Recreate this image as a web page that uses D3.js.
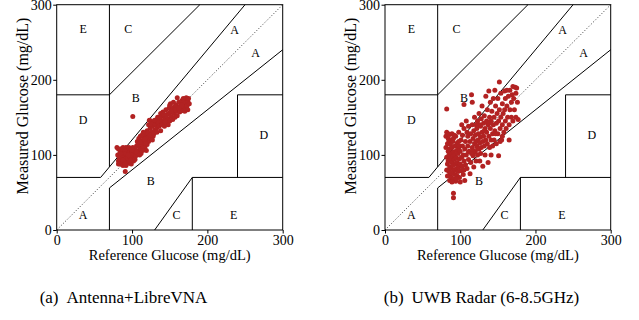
<!DOCTYPE html>
<html><head><meta charset="utf-8">
<script src="https://cdn.jsdelivr.net/npm/d3@7"></script>
<style>
body{margin:0;background:#fff;}
svg{display:block;}
text{font-family:"Liberation Serif","Times New Roman",serif;fill:#000;}
</style></head>
<body><svg id="c" width="639" height="320"></svg>
<script>
// ---- data ----
const ticks = [0, 100, 200, 300];
const xLabel = "Reference Glucose (mg/dL)";
const yLabel = "Measured Glucose (mg/dL)";
const captions = [["(a)", "Antenna+LibreVNA"], ["(b)", "UWB Radar (6-8.5GHz)"]];
const zoneLetters = ["E","C","A","A","B","D","D","B","A","C","E"];
const zoneX = [35, 95, 236, 264, 105, 35, 275, 125, 35, 159, 235];
const zoneY = [267, 267, 266, 236, 176, 146, 126, 65, 20, 20, 20];

const leftPts = [
[82,92],[83,97],[84,88],[84,103],[85,95],[85,108],[86,90],[86,100],[87,94],[87,105],[88,86],[88,98],[88,110],[89,92],[89,102],[90,96],[90,88],[90,107],[91,99],[91,93],[92,104],[92,86],[92,110],[93,97],[93,91],[94,101],[94,107],[95,94],[95,89],[95,104],[96,99],[96,110],[97,92],[97,105],[98,97],[98,101],[99,88],[99,108],[100,95],[100,103],[101,99],[101,110],[102,92],[102,106],[103,101],[103,97],[104,109],[104,94],[105,104],[105,99],[81,100],[83,94],[86,96],[89,96],[91,105],[93,100],[96,92],[99,100],[84,98],[87,100],[90,102],[94,96],[97,98],[100,107],[82,88],[85,102],[88,93],[91,88],[95,100],[98,93],
[91,78],[101,151],[80,110],[82,108],
[106,112],[107,118],[108,105],[109,122],[110,110],[110,116],[111,125],[112,108],[113,119],[114,113],[115,124],[115,130],[116,118],[117,110],[118,126],[119,120],[120,114],[120,132],[121,124],[122,140],[122,118],[123,128],[124,135],[125,122],[125,145],[126,130],[127,138],[128,125],[129,143],[130,133],[108,114],[112,102],[116,128],[119,106],[123,146],[127,120],[113,126],[118,116],[121,129],[124,126],[111,117],[114,106],[117,121],[126,141],[129,128],[106,104],[110,100],
[131,140],[132,145],[133,136],[134,150],[135,142],[136,138],[137,148],[138,155],[139,144],[140,140],[140,152],[141,157],[142,146],[143,138],[144,150],[145,160],[146,143],[147,154],[148,148],[149,162],[150,156],[150,145],[151,168],[152,151],[153,159],[154,147],[155,163],[156,155],[157,150],[158,166],[159,158],[160,152],[161,163],[162,170],[163,157],[164,165],[165,161],[166,172],[167,159],[168,167],[169,174],[170,163],[171,170],[172,176],[173,165],[174,171],[175,175],[176,168],[168,175],[160,176],[155,170],[145,152],[138,132],[134,144],[142,154],[148,140],[152,158],[158,160],[164,158],[170,158],[174,160],[136,150],[144,144],[150,166],[162,162],[166,166],[133,130],[130,146]
];

const rightPts = [
[82,161],[81,125],[81,110],[82,97],[82,80],[82,130],[83,115],[83,88],[83,72],[84,105],[84,122],[84,92],[85,78],[85,100],[85,118],[86,84],[86,127],[86,66],[86,108],[87,95],[87,75],[87,114],[88,102],[88,82],[88,120],[88,70],[89,90],[89,128],[89,110],[90,76],[90,98],[90,86],[90,118],[91,104],[91,68],[91,122],[92,94],[92,80],[91,43],[91,49],[93,112],[93,74],[93,100],[94,88],[94,125],[94,65],[95,106],[95,82],[95,96],[96,116],[96,72],[96,90],[97,102],[97,78],[98,110],[98,84],[98,130],[99,95],[99,70],[100,105],[100,64],[100,88],[101,120],[101,79],[102,97],[102,140],[103,112],[103,85],[104,100],[104,74],[105,92],[105,135],[106,108],[106,66],[107,118],[107,87],[108,145],[108,100],[109,82],[110,112],[110,125],[111,94],[111,138],[112,105],[113,75],[113,118],[114,128],[114,90],[115,180],[116,170],[105,167],[116,110],[116,140],[117,99],[117,122],[118,84],[118,132],[119,115],[119,150],[120,104],[120,126],[121,118],[121,92],[122,135],[122,112],[123,145],[123,100],[124,120],[124,128],[125,155],[125,108],[126,116],[126,92],[127,138],[127,124],[128,148],[128,110],[129,165],[129,130],[130,118],[130,85],[131,142],[131,125],[132,112],[132,152],[133,135],[133,100],[134,178],[134,120],[135,145],[135,130],[136,160],[136,115],[137,140],[137,90],[138,185],[138,125],[139,150],[139,110],[140,135],[140,170],[141,120],[141,145],[142,158],[143,128],[143,112],[144,175],[144,140],[145,150],[145,120],[146,186],[146,132],[147,165],[148,142],[148,115],[149,155],[150,128],[150,175],[152,197],[151,145],[151,99],[152,160],[153,135],[154,182],[154,150],[155,120],[156,168],[156,140],[157,155],[158,130],[159,185],[159,160],[160,145],[160,175],[161,135],[162,165],[163,150],[164,178],[165,140],[166,186],[166,160],[165,120],[168,170],[168,150],[170,191],[170,145],[171,175],[172,160],[173,190],[174,150],[175,189],[176,170],[177,147],[174,182],[169,180],[162,186],
[84,128],[88,76],[92,126],[95,68],[99,112],[89,64],[98,118],[105,80],[111,104],[117,106],[123,108],[126,140],[132,132],[138,142],[141,100],[147,128],[153,118],[156,125],[103,126],[109,130],[115,102],[121,140],[127,102]
];

// Clarke error grid zone boundaries (data units)
const zoneLines = [
[[0,70],[175/3,70]],
[[175/3,70],[250,300]],
[[70,84],[70,300]],
[[0,180],[70,180]],
[[70,180],[190,300]],
[[70,0],[70,56]],
[[70,56],[300,240]],
[[180,0],[180,70]],
[[180,70],[300,70]],
[[240,70],[240,180]],
[[240,180],[300,180]],
[[130,0],[180,70]]
];

const FONT = '"Liberation Serif", "Times New Roman", serif';
const svg = d3.select("#c");
const panels = [
  {x0: 56.7, x1: 282.7, pts: leftPts, cap: captions[0], capX: 123.5, ylabX: 22},
  {x0: 385, x1: 610.7, pts: rightPts, cap: captions[1], capX: 481.5, ylabX: 350}
];
const yTop = 4.7, yBot = 230;

panels.forEach(p => {
  const x = d3.scaleLinear().domain([0,300]).range([p.x0, p.x1]);
  const y = d3.scaleLinear().domain([0,300]).range([yBot, yTop]);
  const g = svg.append("g").attr("font-family", FONT);

  // diagonal
  g.append("line").attr("x1", x(0)).attr("y1", y(0)).attr("x2", x(300)).attr("y2", y(300))
    .attr("stroke","#000").attr("stroke-width",0.8).attr("stroke-dasharray","1,2");

  g.selectAll("line.z").data(zoneLines).enter().append("line").attr("class","z")
    .attr("x1", d=>x(d[0][0])).attr("y1", d=>y(d[0][1]))
    .attr("x2", d=>x(d[1][0])).attr("y2", d=>y(d[1][1]))
    .attr("stroke","#000").attr("stroke-width",1);

  // points
  g.selectAll("circle").data(p.pts).enter().append("circle")
    .attr("cx", d=>x(d[0])).attr("cy", d=>y(d[1])).attr("r", 2.5)
    .attr("fill", "#b22222");

  // zone letters
  zoneLetters.forEach((L,i) => {
    g.append("text").attr("x", x(zoneX[i])).attr("y", y(zoneY[i]))
      .attr("text-anchor","middle").attr("dominant-baseline","central")
      .attr("font-family", FONT).attr("font-size", 12).text(L);
  });

  // axes
  const xa = g.append("g").attr("transform", `translate(0,${yBot})`)
    .call(d3.axisBottom(x).tickValues(ticks).tickSize(3.5).tickPadding(1.5).tickSizeOuter(0));
  const ya = g.append("g").attr("transform", `translate(${p.x0},0)`)
    .call(d3.axisLeft(y).tickValues(ticks).tickSize(3.5).tickPadding(1.5).tickSizeOuter(0));
  [xa, ya].forEach(a => {
    a.attr("font-family", FONT);
    a.select(".domain").remove();
    a.selectAll("line").attr("stroke","#000");
    a.selectAll("text").attr("font-size", 14).attr("font-family", FONT).attr("fill","#000");
  });
  // frame
  g.append("rect").attr("x", p.x0).attr("y", yTop).attr("width", p.x1-p.x0).attr("height", yBot-yTop)
    .attr("fill","none").attr("stroke","#000").attr("stroke-width",1);

  // axis labels
  g.append("text").attr("x", (p.x0+p.x1)/2).attr("y", 260).attr("text-anchor","middle")
    .attr("font-family", FONT).attr("font-size", 14.5).text(xLabel);
  g.append("text").attr("transform", `translate(${p.ylabX},106) rotate(-90)`)
    .attr("text-anchor","middle").attr("dominant-baseline","central")
    .attr("font-family", FONT).attr("font-size", 16).text(yLabel);

  // caption
  const c = g.append("text").attr("x", p.capX).attr("y", 303).attr("text-anchor","middle")
    .attr("font-family", FONT).attr("font-size", 17);
  c.append("tspan").text(p.cap[0]);
  c.append("tspan").attr("dx", 8).text(p.cap[1]);
});
</script></body></html>
